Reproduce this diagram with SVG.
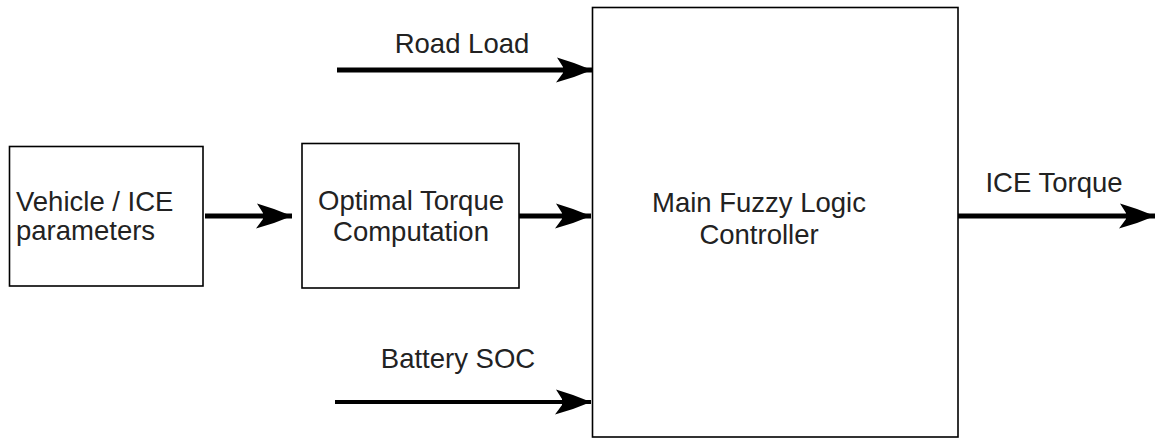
<svg xmlns="http://www.w3.org/2000/svg" width="1156" height="440" viewBox="0 0 1156 440">
<style>
.box{fill:#fff;stroke:#000;stroke-width:1.6}
.lbl{font-family:"Liberation Sans",Arial,sans-serif;font-size:27.5px;fill:#222}
.wire{stroke:#000;stroke-width:5;fill:none}
</style>
<defs>
<marker id="ah" markerUnits="userSpaceOnUse" markerWidth="44" markerHeight="32" viewBox="-38 -16 40 32" refX="0" refY="0" orient="auto">
<path d="M0,0 L-18,-7 L-35,-12.5 L-29,-3 L-29,3 L-36,12.5 L-18,7 Z" fill="#000"/>
</marker>
</defs>
<rect width="1156" height="440" fill="#fff"/>
<g id="vehicle">
<rect class="box" x="9.5" y="146.5" width="193.5" height="139.5"/>
<text class="lbl" x="16" y="211">Vehicle / ICE</text>
<text class="lbl" x="16" y="240">parameters</text>
</g>
<g id="optimal">
<rect class="box" x="302" y="143.5" width="217" height="144.5"/>
<text class="lbl" x="411" y="210" text-anchor="middle">Optimal Torque</text>
<text class="lbl" x="411" y="241" text-anchor="middle">Computation</text>
</g>
<g id="controller">
<rect class="box" x="592.5" y="7.5" width="365.5" height="429.5"/>
<text class="lbl" x="759" y="212" text-anchor="middle">Main Fuzzy Logic</text>
<text class="lbl" x="759" y="244" text-anchor="middle">Controller</text>
</g>
<g id="connectors">
<line class="wire" x1="205" y1="216" x2="292" y2="216" marker-end="url(#ah)"/>
<line class="wire" x1="519" y1="216" x2="591" y2="216" marker-end="url(#ah)"/>
<line class="wire" x1="337" y1="70" x2="592" y2="70" marker-end="url(#ah)"/>
<line class="wire" x1="335" y1="402" x2="591" y2="402" style="stroke-width:4" marker-end="url(#ah)"/>
<line class="wire" x1="958" y1="216" x2="1155" y2="216" marker-end="url(#ah)"/>
</g>
<g id="labels">
<text class="lbl" x="462" y="53" text-anchor="middle">Road Load</text>
<text class="lbl" x="458" y="368" text-anchor="middle">Battery SOC</text>
<text class="lbl" x="1054" y="192" text-anchor="middle">ICE Torque</text>
</g>
</svg>
